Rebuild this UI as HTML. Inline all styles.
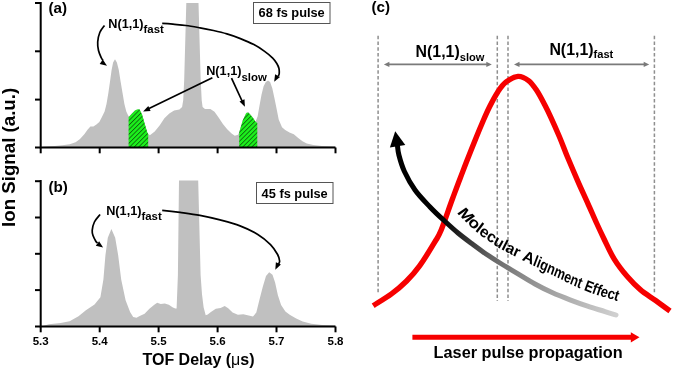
<!DOCTYPE html>
<html><head><meta charset="utf-8"><title>Figure</title>
<style>html,body{margin:0;padding:0;background:#fff;width:675px;height:371px;overflow:hidden}svg{display:block}</style>
</head><body>
<svg width="675" height="371" viewBox="0 0 675 371">
<defs>
<pattern id="hatch" patternUnits="userSpaceOnUse" width="3.2" height="3.2" patternTransform="rotate(45)"><rect width="3.2" height="3.2" fill="#1cf01c"/><rect x="0" y="0" width="0.85" height="3.2" fill="#0d650d"/></pattern>
<linearGradient id="mag" gradientUnits="userSpaceOnUse" x1="440" y1="214" x2="615" y2="314"><stop offset="0" stop-color="#000"/><stop offset="0.08" stop-color="#111"/><stop offset="0.33" stop-color="#666"/><stop offset="0.5" stop-color="#888"/><stop offset="0.73" stop-color="#aaa"/><stop offset="1" stop-color="#cfcfcf"/></linearGradient>
<marker id="ah" viewBox="0 0 10 10" refX="9" refY="5" markerWidth="6" markerHeight="5" markerUnits="userSpaceOnUse" orient="auto"><path d="M0,0 L10,5 L0,10 z" fill="#000"/></marker>
</defs>
<rect width="675" height="371" fill="#fff"/>
<polygon points="41.0,147.5 43.0,146.7 54.8,146.0 62.3,145.3 69.7,144.2 75.6,142.3 80.0,138.9 84.5,134.1 87.5,129.7 90.4,126.4 93.4,126.4 96.4,124.5 99.3,122.0 101.8,117.3 104.6,111.6 106.5,104.0 108.4,92.7 110.3,79.5 111.6,70.1 113.1,62.5 115.0,59.2 116.9,62.5 118.8,70.1 120.6,81.4 122.5,92.7 124.4,104.0 126.3,111.6 128.2,115.4 129.0,116.5 135.0,110.6 139.0,109.1 142.0,114.3 145.0,124.7 147.5,133.6 149.9,135.2 154.7,131.6 159.6,125.5 164.4,118.2 169.3,113.4 174.1,110.5 179.4,109.6 182.1,107.0 183.2,100.2 184.2,80.0 186.3,3.0 198.5,3.0 200.7,80.0 201.7,100.2 202.6,107.0 205.0,109.0 210.4,109.0 214.5,111.7 218.6,117.4 222.9,123.9 227.2,129.3 231.6,133.6 234.8,135.7 238.0,134.7 239.2,132.3 242.8,120.2 246.2,112.8 248.2,112.1 250.2,114.2 252.9,117.5 255.6,121.6 257.6,116.4 259.3,106.7 261.5,94.8 263.6,86.2 265.8,81.9 268.0,80.4 270.1,81.9 272.3,88.3 274.4,98.0 276.6,108.8 278.7,119.6 282.0,127.2 285.2,130.0 289.5,132.6 293.8,134.3 298.2,138.0 302.5,141.2 306.8,143.4 313.3,145.1 321.9,146.0 334.8,146.6 335.5,147.5" fill="#c0c0c0"/>
<polygon points="128.6,147.5 128.6,117.3 132.0,113.5 135.0,110.6 137.0,109.5 139.5,109.3 142.0,114.3 145.0,124.7 147.5,133.0 148.2,134.0 148.2,147.5" fill="url(#hatch)"/>
<polygon points="239.2,147.5 239.2,132.3 242.8,120.2 246.2,113.2 248.2,112.6 250.2,114.5 252.9,117.8 255.6,121.8 257.3,123.0 257.3,147.5" fill="url(#hatch)"/>
<polygon points="41.0,326.5 48.9,324.2 60.7,323.0 69.6,321.2 78.5,316.2 85.9,310.3 90.0,307.6 94.5,304.6 100.4,297.2 103.4,279.4 105.4,255.6 107.8,237.8 111.4,228.9 115.2,237.8 118.2,255.6 121.2,279.4 125.6,300.2 130.1,312.1 133.2,316.9 136.5,317.7 139.7,316.1 144.6,313.7 149.4,308.8 154.3,304.8 157.2,302.8 160.7,304.0 164.8,303.5 168.8,304.8 172.9,307.5 175.3,308.5 176.6,308.5 177.9,275.0 179.0,180.5 198.2,180.5 200.6,275.0 202.0,294.3 203.6,307.2 205.7,315.3 207.7,314.5 210.9,312.1 215.8,308.8 220.6,308.0 224.7,305.9 228.2,308.3 232.6,312.6 237.9,314.7 243.3,314.3 248.7,315.4 253.0,316.5 256.3,312.6 259.5,299.6 262.8,286.7 266.0,275.9 269.2,272.2 272.5,274.8 275.1,282.4 277.9,295.3 281.1,305.0 285.4,311.5 289.7,314.7 296.2,318.6 302.7,321.6 311.3,323.8 322.1,325.1 335.0,325.5 335.5,326.5" fill="#c0c0c0"/>
<path d="M40.7,2.0 V147.5 H335.5" fill="none" stroke="#000" stroke-width="2"/>
<path d="M35,3.0 H40.7" stroke="#000" stroke-width="2"/>
<path d="M35,51.3 H40.7" stroke="#000" stroke-width="2"/>
<path d="M35,99.6 H40.7" stroke="#000" stroke-width="2"/>
<path d="M35,147.5 H40.7" stroke="#000" stroke-width="2"/>
<path d="M40.7,147.5 V153.3" stroke="#000" stroke-width="2"/>
<path d="M99.7,147.5 V153.3" stroke="#000" stroke-width="2"/>
<path d="M158.6,147.5 V153.3" stroke="#000" stroke-width="2"/>
<path d="M217.6,147.5 V153.3" stroke="#000" stroke-width="2"/>
<path d="M276.5,147.5 V153.3" stroke="#000" stroke-width="2"/>
<path d="M335.5,147.5 V153.3" stroke="#000" stroke-width="2"/>
<path d="M40.7,180.0 V326.5 H335.5" fill="none" stroke="#000" stroke-width="2"/>
<path d="M35,181.2 H40.7" stroke="#000" stroke-width="2"/>
<path d="M35,217.5 H40.7" stroke="#000" stroke-width="2"/>
<path d="M35,253.8 H40.7" stroke="#000" stroke-width="2"/>
<path d="M35,290.1 H40.7" stroke="#000" stroke-width="2"/>
<path d="M35,326.5 H40.7" stroke="#000" stroke-width="2"/>
<path d="M40.7,326.5 V332.3" stroke="#000" stroke-width="2"/>
<path d="M99.7,326.5 V332.3" stroke="#000" stroke-width="2"/>
<path d="M158.6,326.5 V332.3" stroke="#000" stroke-width="2"/>
<path d="M217.6,326.5 V332.3" stroke="#000" stroke-width="2"/>
<path d="M276.5,326.5 V332.3" stroke="#000" stroke-width="2"/>
<path d="M335.5,326.5 V332.3" stroke="#000" stroke-width="2"/>
<text x="40.7" y="345" font-family="Liberation Sans, Arial, sans-serif" font-weight="bold" font-size="11.5" text-anchor="middle">5.3</text>
<text x="99.7" y="345" font-family="Liberation Sans, Arial, sans-serif" font-weight="bold" font-size="11.5" text-anchor="middle">5.4</text>
<text x="158.6" y="345" font-family="Liberation Sans, Arial, sans-serif" font-weight="bold" font-size="11.5" text-anchor="middle">5.5</text>
<text x="217.6" y="345" font-family="Liberation Sans, Arial, sans-serif" font-weight="bold" font-size="11.5" text-anchor="middle">5.6</text>
<text x="276.5" y="345" font-family="Liberation Sans, Arial, sans-serif" font-weight="bold" font-size="11.5" text-anchor="middle">5.7</text>
<text x="335.5" y="345" font-family="Liberation Sans, Arial, sans-serif" font-weight="bold" font-size="11.5" text-anchor="middle">5.8</text>
<text x="198.5" y="365" font-family="Liberation Sans, Arial, sans-serif" font-weight="bold" font-size="16" text-anchor="middle">TOF Delay (<tspan font-weight="normal">&#956;</tspan>s)</text>
<text transform="translate(15.0,157.4) rotate(-90)" font-family="Liberation Sans, Arial, sans-serif" font-weight="bold" font-size="18.7" text-anchor="middle">Ion Signal (a.u.)</text>
<text x="48.5" y="12.8" font-family="Liberation Sans, Arial, sans-serif" font-weight="bold" font-size="15.2">(a)</text>
<text x="48.5" y="191.5" font-family="Liberation Sans, Arial, sans-serif" font-weight="bold" font-size="15.2">(b)</text>
<text x="371.5" y="12.3" font-family="Liberation Sans, Arial, sans-serif" font-weight="bold" font-size="15.2">(c)</text>
<rect x="253.5" y="2.5" width="76.5" height="21" fill="#fff" stroke="#555" stroke-width="1"/>
<text x="258.6" y="16.6" font-family="Liberation Sans, Arial, sans-serif" font-weight="bold" font-size="12.8">68 fs pulse</text>
<rect x="256.5" y="182.5" width="76.5" height="21" fill="#fff" stroke="#555" stroke-width="1"/>
<text x="261.6" y="197.6" font-family="Liberation Sans, Arial, sans-serif" font-weight="bold" font-size="12.8">45 fs pulse</text>
<text x="108.3" y="28.0" font-family="Liberation Sans, Arial, sans-serif" font-weight="bold" font-size="12.7">N(1,1)<tspan font-size="11.4" dy="4.5">fast</tspan></text>
<text x="206.2" y="75.2" font-family="Liberation Sans, Arial, sans-serif" font-weight="bold" font-size="12.7">N(1,1)<tspan font-size="11.4" dy="5.5">slow</tspan></text>
<text x="106.2" y="214.5" font-family="Liberation Sans, Arial, sans-serif" font-weight="bold" font-size="12.7">N(1,1)<tspan font-size="11.4" dy="5.4">fast</tspan></text>
<path d="M104.5,25.5 C103.7,26.7 100.9,29.8 99.8,32.5 C98.7,35.2 97.9,39.0 97.7,42.0 C97.5,45.0 97.9,47.9 98.5,50.5 C99.1,53.1 100.5,56.1 101.3,57.8 C102.0,59.5 102.7,60.0 103.0,60.5" fill="none" stroke="#000" stroke-width="1.7"/><polygon points="107.0,65.7 102.8,59.4 99.7,64.0" fill="#000"/>
<path d="M162.2,23.4 C164.0,23.5 168.9,23.8 172.9,24.2 C176.9,24.6 181.4,24.9 185.9,25.5 C190.4,26.1 195.4,27.0 200.0,27.8 C204.6,28.6 209.0,29.5 213.5,30.5 C218.0,31.5 222.4,32.5 226.9,33.9 C231.4,35.2 235.9,36.8 240.4,38.6 C244.9,40.4 249.9,42.5 253.9,44.6 C257.9,46.7 261.5,49.1 264.6,51.4 C267.7,53.6 270.7,56.1 272.7,58.1 C274.7,60.1 275.8,61.8 276.8,63.5 C277.8,65.2 278.5,66.6 278.9,68.3 C279.3,70.0 279.3,72.4 279.2,73.7 C279.1,75.0 278.4,75.6 278.3,76.0" fill="none" stroke="#000" stroke-width="1.7"/><polygon points="274.2,81.8 280.0,77.0 275.1,74.3" fill="#000"/>
<path d="M212.4,77.8 L149,108.6" fill="none" stroke="#000" stroke-width="1.7"/><polygon points="143.1,111.5 150.6,111.1 148.3,106.1" fill="#000"/>
<path d="M231.5,78.2 L242.3,101.5" fill="none" stroke="#000" stroke-width="1.7"/><polygon points="244.9,106.8 244.5,99.3 239.5,101.6" fill="#000"/>
<path d="M100.1,214.5 C99.1,215.8 95.7,219.3 94.4,222.0 C93.1,224.7 92.4,228.1 92.2,230.4 C92.0,232.7 92.5,234.0 93.1,235.8 C93.7,237.6 95.1,240.0 95.8,241.2 C96.5,242.4 97.2,242.7 97.5,243.0" fill="none" stroke="#000" stroke-width="1.7"/><polygon points="103.1,247.6 99.1,241.2 95.8,245.7" fill="#000"/>
<path d="M162.2,210.3 C165.2,210.6 173.7,211.5 180.0,212.3 C186.3,213.2 193.3,214.1 200.0,215.4 C206.7,216.7 213.3,218.2 220.0,219.9 C226.7,221.7 233.7,223.5 240.0,225.9 C246.3,228.3 252.7,231.3 257.8,234.4 C262.9,237.5 267.2,241.2 270.5,244.6 C273.8,247.9 276.1,251.8 277.6,254.5 C279.1,257.2 279.4,259.4 279.6,261.0 C279.8,262.6 278.8,263.5 278.6,264.0" fill="none" stroke="#000" stroke-width="1.7"/><polygon points="275.3,269.7 280.9,264.6 275.9,262.2" fill="#000"/>
<line x1="378.1" y1="35.8" x2="378.1" y2="294.5" stroke="#8f8f8f" stroke-width="1.5" stroke-dasharray="3.5,2.248"/>
<line x1="497.3" y1="35.8" x2="497.3" y2="301.0" stroke="#8f8f8f" stroke-width="1.5" stroke-dasharray="3.5,2.248"/>
<line x1="508.0" y1="35.8" x2="508.0" y2="301.0" stroke="#8f8f8f" stroke-width="1.5" stroke-dasharray="3.5,2.248"/>
<line x1="654.4" y1="35.8" x2="654.4" y2="294.5" stroke="#8f8f8f" stroke-width="1.5" stroke-dasharray="3.5,2.248"/>
<line x1="387.9" y1="64.4" x2="487.8" y2="64.4" stroke="#7a7a7a" stroke-width="1.9"/><polygon points="383.9,64.4 389.4,61.8 389.4,67.0" fill="#7a7a7a"/><polygon points="491.8,64.4 486.3,61.8 486.3,67.0" fill="#7a7a7a"/>
<line x1="518.0" y1="64.4" x2="645.2" y2="64.4" stroke="#7a7a7a" stroke-width="1.9"/><polygon points="514.0,64.4 519.5,61.8 519.5,67.0" fill="#7a7a7a"/><polygon points="649.2,64.4 643.7,61.8 643.7,67.0" fill="#7a7a7a"/>
<text x="415.6" y="56.7" font-family="Liberation Sans, Arial, sans-serif" font-weight="bold" font-size="15.9">N(1,1)<tspan font-size="11.1" dy="3.8">slow</tspan></text>
<text x="549.4" y="54.6" font-family="Liberation Sans, Arial, sans-serif" font-weight="bold" font-size="15.9">N(1,1)<tspan font-size="11.1" dy="3.5">fast</tspan></text>
<path d="M373.2,305.7 C376.2,303.7 385.9,298.0 391.5,293.9 C397.1,289.8 401.9,285.7 406.6,281.0 C411.3,276.3 414.9,272.4 419.6,265.9 C424.3,259.4 431.1,248.2 434.7,242.2 C438.3,236.2 438.2,237.2 441.2,230.0 C444.1,222.8 449.2,207.6 452.4,199.0 C455.6,190.4 457.6,184.9 460.2,178.2 C462.8,171.5 465.0,165.6 467.7,158.8 C470.4,152.0 473.7,143.6 476.3,137.2 C478.9,130.8 481.1,125.6 483.3,120.5 C485.5,115.4 487.3,111.3 489.7,106.5 C492.1,101.7 495.1,96.0 497.8,91.9 C500.5,87.9 502.5,84.8 505.9,82.2 C509.3,79.6 514.2,76.7 518.0,76.4 C521.8,76.1 525.4,78.3 528.5,80.6 C531.6,82.9 533.9,86.3 536.6,90.3 C539.3,94.3 542.4,100.4 544.7,104.8 C547.0,109.2 548.1,111.4 550.5,116.6 C552.9,121.8 556.2,129.2 559.1,136.0 C562.0,142.8 564.6,150.0 567.7,157.6 C570.9,165.2 574.7,174.0 578.0,181.6 C581.3,189.2 584.7,196.3 587.7,203.1 C590.8,209.9 593.6,216.6 596.3,222.5 C599.0,228.4 600.9,232.5 603.9,238.7 C606.9,244.8 610.5,253.1 614.4,259.4 C618.3,265.7 623.0,271.6 627.3,276.6 C631.6,281.6 635.6,285.7 640.3,289.6 C645.0,293.6 650.3,296.7 655.3,300.3 C660.2,303.9 667.5,309.2 670.0,311.0" fill="none" stroke="#f60000" stroke-width="5.4" stroke-linejoin="round"/>
<path d="M397.5,146.0 C397.7,147.5 397.8,150.8 398.9,155.0 C400.0,159.2 401.6,165.4 404.3,171.2 C407.0,177.0 410.7,184.0 415.0,190.0 C419.3,196.0 425.2,201.9 430.0,207.0 C434.8,212.1 439.3,216.2 444.0,220.5 C448.7,224.8 453.3,229.1 458.0,233.0 C462.7,236.9 467.3,240.3 472.0,243.8 C476.7,247.3 481.3,250.8 486.0,254.0 C490.7,257.2 494.7,259.7 500.0,263.0 C505.3,266.3 511.8,270.1 517.6,273.6 C523.4,277.1 529.2,280.8 535.0,284.0 C540.8,287.2 546.8,290.2 552.6,292.8 C558.4,295.4 564.2,297.6 570.0,299.8 C575.8,302.0 581.8,304.2 587.6,306.2 C593.4,308.2 600.3,310.1 605.0,311.6 C609.7,313.1 614.2,314.4 616.0,315.0" fill="none" stroke="url(#mag)" stroke-width="5" stroke-linecap="round"/>
<polygon points="395.2,131.3 389.9,147.6 405.3,145" fill="#000"/>
<text transform="translate(461.81,218.02) rotate(54.8) skewX(0) skewY(-10.2) scale(1.142,1)" font-family="Liberation Sans, Arial, sans-serif" font-weight="bold" font-size="15.5" text-anchor="middle">M</text>
<text transform="translate(470.92,226.96) rotate(43.9) skewX(0) skewY(-1.0) scale(1.117,1)" font-family="Liberation Sans, Arial, sans-serif" font-weight="bold" font-size="15.5" text-anchor="middle">o</text>
<text transform="translate(476.58,231.93) rotate(37.3) skewX(0) skewY(2.3) scale(1.067,1)" font-family="Liberation Sans, Arial, sans-serif" font-weight="bold" font-size="15.5" text-anchor="middle">l</text>
<text transform="translate(481.88,236.16) rotate(34.8) skewX(0) skewY(2.9) scale(1.037,1)" font-family="Liberation Sans, Arial, sans-serif" font-weight="bold" font-size="15.5" text-anchor="middle">e</text>
<text transform="translate(488.99,241.38) rotate(31.6) skewX(0) skewY(3.3) scale(1.015,1)" font-family="Liberation Sans, Arial, sans-serif" font-weight="bold" font-size="15.5" text-anchor="middle">c</text>
<text transform="translate(496.62,246.43) rotate(28.3) skewX(0) skewY(3.5) scale(1.012,1)" font-family="Liberation Sans, Arial, sans-serif" font-weight="bold" font-size="15.5" text-anchor="middle">u</text>
<text transform="translate(502.62,249.96) rotate(26.7) skewX(0) skewY(2.4) scale(1.006,1)" font-family="Liberation Sans, Arial, sans-serif" font-weight="bold" font-size="15.5" text-anchor="middle">l</text>
<text transform="translate(508.34,253.02) rotate(25.3) skewX(0) skewY(2.2) scale(1.005,1)" font-family="Liberation Sans, Arial, sans-serif" font-weight="bold" font-size="15.5" text-anchor="middle">a</text>
<text transform="translate(514.91,256.36) rotate(23.8) skewX(0) skewY(3.0) scale(1.010,1)" font-family="Liberation Sans, Arial, sans-serif" font-weight="bold" font-size="15.5" text-anchor="middle">r</text>
<text transform="translate(527.01,262.39) rotate(21.0) skewX(0) skewY(4.6) scale(1.068,1)" font-family="Liberation Sans, Arial, sans-serif" font-weight="bold" font-size="15.5" text-anchor="middle">A</text>
<text transform="translate(534.02,265.70) rotate(20.9) skewX(0) skewY(5.1) scale(0.866,1)" font-family="Liberation Sans, Arial, sans-serif" font-weight="bold" font-size="15.5" text-anchor="middle">l</text>
<text transform="translate(537.31,267.33) rotate(20.8) skewX(0) skewY(5.6) scale(0.849,1)" font-family="Liberation Sans, Arial, sans-serif" font-weight="bold" font-size="15.5" text-anchor="middle">i</text>
<text transform="translate(542.50,269.93) rotate(20.8) skewX(0) skewY(6.1) scale(0.838,1)" font-family="Liberation Sans, Arial, sans-serif" font-weight="bold" font-size="15.5" text-anchor="middle">g</text>
<text transform="translate(549.52,273.51) rotate(20.6) skewX(0) skewY(6.5) scale(0.826,1)" font-family="Liberation Sans, Arial, sans-serif" font-weight="bold" font-size="15.5" text-anchor="middle">n</text>
<text transform="translate(558.02,277.86) rotate(20.5) skewX(0) skewY(6.4) scale(0.818,1)" font-family="Liberation Sans, Arial, sans-serif" font-weight="bold" font-size="15.5" text-anchor="middle">m</text>
<text transform="translate(566.18,281.95) rotate(20.4) skewX(0) skewY(5.9) scale(0.814,1)" font-family="Liberation Sans, Arial, sans-serif" font-weight="bold" font-size="15.5" text-anchor="middle">e</text>
<text transform="translate(572.81,285.16) rotate(20.2) skewX(0) skewY(5.1) scale(0.815,1)" font-family="Liberation Sans, Arial, sans-serif" font-weight="bold" font-size="15.5" text-anchor="middle">n</text>
<text transform="translate(578.23,287.67) rotate(20.1) skewX(0) skewY(4.2) scale(0.819,1)" font-family="Liberation Sans, Arial, sans-serif" font-weight="bold" font-size="15.5" text-anchor="middle">t</text>
<text transform="translate(587.36,291.58) rotate(19.9) skewX(0) skewY(1.4) scale(0.828,1)" font-family="Liberation Sans, Arial, sans-serif" font-weight="bold" font-size="15.5" text-anchor="middle">E</text>
<text transform="translate(593.40,293.77) rotate(19.3) skewX(0) skewY(-0.6) scale(0.832,1)" font-family="Liberation Sans, Arial, sans-serif" font-weight="bold" font-size="15.5" text-anchor="middle">f</text>
<text transform="translate(597.49,295.10) rotate(18.9) skewX(0) skewY(-1.4) scale(0.834,1)" font-family="Liberation Sans, Arial, sans-serif" font-weight="bold" font-size="15.5" text-anchor="middle">f</text>
<text transform="translate(603.00,296.78) rotate(18.3) skewX(0) skewY(-1.6) scale(0.836,1)" font-family="Liberation Sans, Arial, sans-serif" font-weight="bold" font-size="15.5" text-anchor="middle">e</text>
<text transform="translate(609.91,298.83) rotate(17.5) skewX(0) skewY(-0.8) scale(0.836,1)" font-family="Liberation Sans, Arial, sans-serif" font-weight="bold" font-size="15.5" text-anchor="middle">c</text>
<text transform="translate(615.41,300.52) rotate(17.0) skewX(0) skewY(0.7) scale(0.834,1)" font-family="Liberation Sans, Arial, sans-serif" font-weight="bold" font-size="15.5" text-anchor="middle">t</text>
<line x1="412.4" y1="337.3" x2="632" y2="337.3" stroke="#f60000" stroke-width="5"/>
<polygon points="639.5,337.3 630.8,332.3 630.8,342.5" fill="#f60000"/>
<text x="433.6" y="358.4" font-family="Liberation Sans, Arial, sans-serif" font-weight="bold" font-size="16.3">Laser pulse propagation</text>
</svg>
</body></html>
